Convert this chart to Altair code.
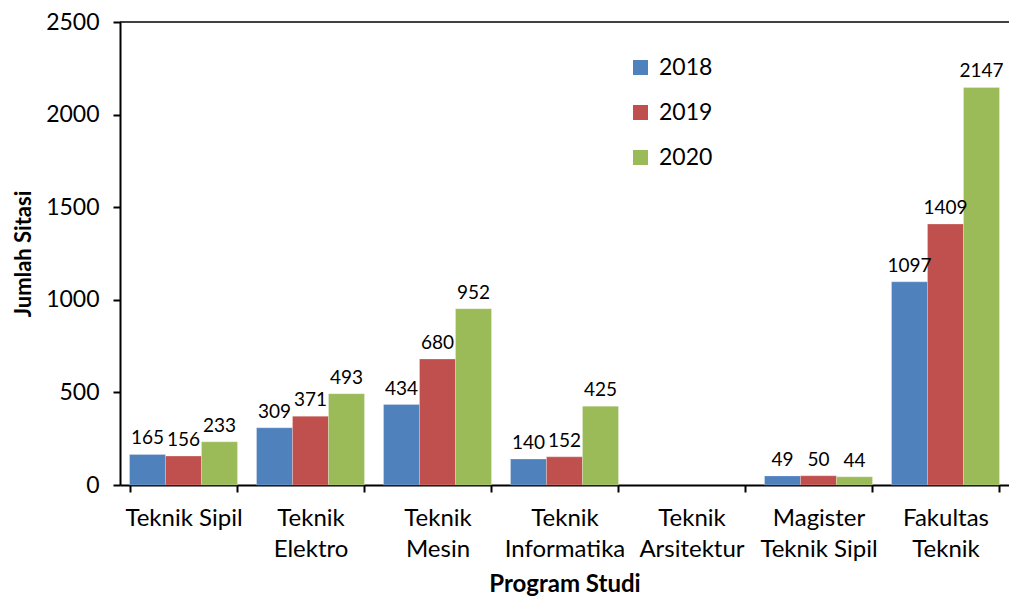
import altair as alt
import pandas as pd

categories = ["Teknik Sipil", "Teknik\nElektro", "Teknik\nMesin", "Teknik\nInformatika",
              "Teknik\nArsitektur", "Magister\nTeknik Sipil", "Fakultas\nTeknik"]
years = ["2018", "2019", "2020"]
v2018 = [165, 309, 434, 140, None, 49, 1097]
v2019 = [156, 371, 680, 152, None, 50, 1409]
v2020 = [233, 493, 952, 425, None, 44, 2147]
colors = ["#4F81BD", "#C0504D", "#9BBB59"]

rows = []
for yr, vals in zip(years, [v2018, v2019, v2020]):
    for c, v in zip(categories, vals):
        if v is not None:
            rows.append({"Program": c, "Tahun": yr, "Jumlah": v})
df = pd.DataFrame(rows)

FONT = "Lato"

x = alt.X("Program:N", scale=alt.Scale(domain=categories, paddingInner=0.15, paddingOuter=0.075),
          axis=alt.Axis(title="Program Studi", labelAngle=0, labelExpr="split(datum.label, '\\n')",
                        tickBand="extent", labelFontSize=24, labelLineHeight=31, labelPadding=14,
                        titleFontSize=24, titleFontWeight="bold", titlePadding=11,
                        labelColor="black", titleColor="black"))
y = alt.Y("Jumlah:Q", scale=alt.Scale(domain=[0, 2500], nice=False),
          axis=alt.Axis(title="Jumlah Sitasi", values=[0, 500, 1000, 1500, 2000, 2500], format="d",
                        grid=False, labelFontSize=23, labelPadding=14,
                        titleFontSize=22, titleFontWeight="bold", titlePadding=10,
                        labelColor="black", titleColor="black"))
xo = alt.XOffset("Tahun:N", scale=alt.Scale(domain=years, paddingInner=0, paddingOuter=0))

bars = alt.Chart(df).mark_bar(stroke="white", strokeWidth=0.4, strokeOpacity=0.6).encode(
    x=x, y=y, xOffset=xo,
    color=alt.Color("Tahun:N", scale=alt.Scale(domain=years, range=colors),
                    legend=alt.Legend(title=None, orient="none", legendX=509, legendY=34,
                                      symbolType="square", symbolSize=225, labelFontSize=23,
                                      rowPadding=21, labelFont=FONT, symbolStrokeWidth=0,
                                      labelColor="black", labelOffset=7)),
)

labels = alt.Chart(df).mark_text(baseline="bottom", dy=-6, fontSize=19, font=FONT, color="black").encode(
    x=x, y=y, xOffset=xo, text=alt.Text("Jumlah:Q"),
)

top = alt.Chart(pd.DataFrame({"v": [2500]})).mark_rule(color="black", strokeWidth=1.5).encode(
    y=alt.Y("v:Q")
)

chart = alt.layer(bars, labels, top).properties(
    width=889, height=463,
    autosize=alt.AutoSizeParams(type="none"),
    padding={"left": 112, "top": 14, "right": 0, "bottom": 112},
).configure_view(stroke=None).configure_axis(
    domainColor="black", domainWidth=2, tickColor="black", tickWidth=2, tickSize=7,
    labelFont=FONT, titleFont=FONT,
)

chart.save("out.html", embed_options={"renderer": "svg", "actions": False})
